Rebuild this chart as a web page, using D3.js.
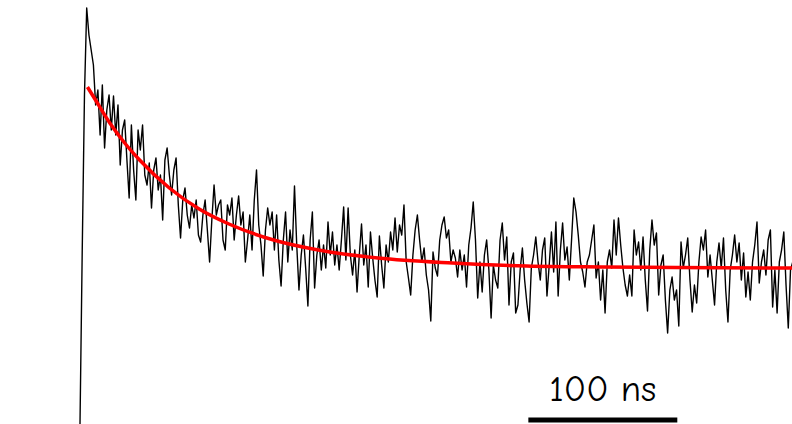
<!DOCTYPE html>
<html>
<head>
<meta charset="utf-8">
<script src="https://cdn.jsdelivr.net/npm/d3@7"></script>
<style>
  body { margin: 0; background: #fff; }
  svg { display: block; }
</style>
</head>
<body>
<div id="chart"></div>
<script>
// Chart Params
var svgWidth = 792;
var svgHeight = 424;

// Decay trace, one sample every 1.5 ns starting at the laser pulse (counts)
var sampleStep = 1.5;
var traceCounts = [
  0, 174, 329, 416, 389, 374, 359, 319, 334, 289, 339, 276, 314, 329, 294, 328, 289, 319, 259, 294,
  304, 264, 226, 299, 254, 224, 294, 274, 299, 249, 239, 261, 216, 254, 266, 234, 249, 204, 264, 276,
  249, 229, 254, 266, 219, 186, 224, 236, 209, 196, 219, 206, 224, 189, 182, 209, 224, 194, 162, 204,
  239, 209, 219, 224, 184, 174, 219, 209, 226, 184, 209, 228, 199, 212, 162, 184, 209, 174, 224, 254,
  199, 179, 148, 194, 216, 199, 212, 174, 209, 164, 138, 184, 212, 162, 194, 174, 238, 179, 134, 169,
  189, 156, 118, 184, 212, 136, 169, 184, 154, 179, 156, 202, 169, 192, 159, 179, 154, 184, 217, 164,
  216, 169, 149, 174, 132, 169, 200, 159, 179, 137, 192, 166, 144, 127, 188, 159, 136, 179, 162, 192,
  174, 206, 172, 199, 189, 219, 162, 146, 129, 169, 194, 209, 184, 162, 176, 149, 134, 103, 172, 156,
  148, 184, 199, 207, 186, 194, 162, 174, 166, 147, 174, 154, 169, 137, 179, 196, 222, 184, 126, 162,
  132, 169, 184, 154, 106, 159, 144, 136, 184, 201, 164, 187, 119, 162, 171, 111, 119, 154, 176, 144,
  121, 102, 156, 169, 187, 162, 144, 174, 186, 128, 159, 192, 152, 202, 128, 174, 201, 164, 177, 144,
  184, 226, 212, 189, 162, 152, 137, 162, 169, 184, 199, 146, 162, 124, 154, 111, 162, 174, 156, 204,
  169, 206, 179, 156, 139, 128, 149, 128, 194, 169, 182, 154, 187, 144, 113, 174, 204, 179, 191, 129,
  159, 169, 124, 91, 134, 147, 124, 134, 98, 182, 156, 169, 186, 144, 112, 139, 121, 162, 187, 174,
  194, 147, 169, 144, 119, 162, 181, 156, 186, 134, 102, 154, 169, 189, 162, 181, 144, 171, 127, 152,
  124, 162, 179, 202, 141, 162, 174, 149, 184, 194, 117, 154, 111, 162, 174, 192, 139, 96, 154, 162
];

// Exponential fit
var fitTimes = [5, 10, 20, 30, 40, 60, 80, 100, 130, 160, 200, 250, 300, 350, 400, 478];
var fitCounts = [337, 325, 301, 281, 264, 236, 215, 200, 184, 174, 166, 161, 158, 157, 156.5, 156];

// Scale bar
var barStart = 301;
var barLength = 100;
var barLabel = "100 ns";

var traceData = traceCounts.map(function(c, i) {
  return { t: i * sampleStep, v: c };
});
var fitData = fitTimes.map(function(t, i) {
  return { t: t, v: fitCounts[i] };
});

var svg = d3.select("#chart")
  .append("svg")
  .attr("width", svgWidth)
  .attr("height", svgHeight);

// Create scaling functions
var xTime = d3.scaleLinear()
  .domain([0, 478])
  .range([80, 792]);

var yCounts = d3.scaleLinear()
  .domain([0, 424])
  .range([424, 0]);

var traceLine = d3.line()
  .x(d => xTime(d.t))
  .y(d => yCounts(d.v));

var fitLine = d3.line()
  .x(d => xTime(d.t))
  .y(d => yCounts(d.v))
  .curve(d3.curveMonotoneX);

// Raw trace
svg.append("path")
  .datum(traceData)
  .attr("d", traceLine)
  .attr("fill", "none")
  .attr("stroke", "#000")
  .attr("stroke-width", 1.4)
  .attr("stroke-linejoin", "round");

// Fit
svg.append("path")
  .datum(fitData)
  .attr("d", fitLine)
  .attr("fill", "none")
  .attr("stroke", "#ff0000")
  .attr("stroke-width", 3.5);

// Scale bar + label
svg.append("line")
  .attr("x1", xTime(barStart))
  .attr("x2", xTime(barStart + barLength))
  .attr("y1", 420)
  .attr("y2", 420)
  .attr("stroke", "#000")
  .attr("stroke-width", 5);

svg.append("text")
  .attr("x", xTime(barStart + barLength / 2))
  .attr("y", 401)
  .attr("text-anchor", "middle")
  .attr("font-family", "'Comic Sans MS', 'Comic Neue', 'DejaVu Sans', sans-serif")
  .attr("font-size", 37)
  .attr("textLength", 107)
  .attr("lengthAdjust", "spacingAndGlyphs")
  .attr("fill", "#000")
  .text(barLabel);
</script>
</body>
</html>
